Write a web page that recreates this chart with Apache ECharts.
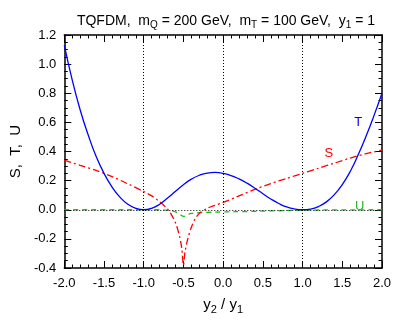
<!DOCTYPE html>
<html>
<head>
<meta charset="utf-8">
<script src="https://cdn.jsdelivr.net/npm/echarts@6/dist/echarts.min.js"></script>
<style>
  html, body { margin: 0; padding: 0; background: #fff; }
  #main { width: 407px; height: 326px; }
</style>
</head>
<body>
<div id="main"></div>
<script>
// y2/y1 sample points for T
const tX = [-2.0, -1.9, -1.8, -1.7, -1.6, -1.5, -1.4, -1.3, -1.2, -1.1, -1.0, -0.9, -0.8, -0.7, -0.6, -0.5, -0.4, -0.3, -0.2, -0.1,
  0.0, 0.1, 0.2, 0.3, 0.4, 0.5, 0.6, 0.7, 0.8, 0.9, 1.0, 1.1, 1.2, 1.3, 1.4, 1.5, 1.6, 1.7, 1.8, 1.9, 2.0];
const tVal = [1.13, 0.89, 0.685, 0.515, 0.367, 0.25, 0.157, 0.087, 0.038, 0.0096, 0.0, 0.01, 0.038, 0.08, 0.127, 0.172, 0.21, 0.237, 0.252, 0.256,
  0.25, 0.235, 0.212, 0.183, 0.148, 0.11, 0.074, 0.043, 0.019, 0.005, 0.0, 0.005, 0.022, 0.054, 0.104, 0.173, 0.263, 0.377, 0.506, 0.648, 0.80];

// S, denser near the dip at -0.5
const sX = [-2.0, -1.8, -1.6, -1.4, -1.2, -1.0, -0.9, -0.8, -0.7, -0.65, -0.6, -0.55, -0.52, -0.5, -0.48, -0.45, -0.4, -0.35, -0.3, -0.2, -0.1,
  0.0, 0.2, 0.4, 0.6, 0.8, 1.0, 1.2, 1.4, 1.6, 1.8, 2.0];
const sVal = [0.34, 0.305, 0.27, 0.228, 0.178, 0.125, 0.095, 0.055, 0.005, -0.035, -0.09, -0.18, -0.27, -0.38, -0.29, -0.21, -0.12, -0.06, -0.025, 0.01, 0.03,
  0.05, 0.095, 0.14, 0.18, 0.215, 0.25, 0.285, 0.32, 0.355, 0.385, 0.41];

// U, almost zero everywhere
const uX = [-2.0, -1.5, -1.0, -0.8, -0.7, -0.6, -0.55, -0.5, -0.45, -0.4, -0.3, -0.2, 0.0, 0.3, 0.6, 1.0, 1.5, 2.0];
const uVal = [0, 0, 0, 0, -0.003, -0.015, -0.03, -0.045, -0.035, -0.025, -0.02, -0.018, -0.015, -0.012, -0.008, -0.003, -0.001, 0];

const xTicks = [-2.0, -1.5, -1.0, -0.5, 0.0, 0.5, 1.0, 1.5, 2.0];
const yTicks = [-0.4, -0.2, 0.0, 0.2, 0.4, 0.6, 0.8, 1.0, 1.2];
const refX = [-1, 0, 1];

const zip = (xs, ys) => xs.map((x, i) => [x, ys[i]]);
const FONT = 'Liberation Sans, Arial, sans-serif';

const chart = echarts.init(document.getElementById('main'));

const boxAxis = (extra) => Object.assign({
  type: 'value',
  axisLine: { show: true, onZero: false, lineStyle: { color: '#000', width: 1.5 } },
  axisTick: { show: true, inside: true, length: 7, lineStyle: { color: '#000', width: 1 } },
  minorTick: { show: true, length: 3.5, lineStyle: { color: '#000', width: 1 } },
  splitLine: { show: false },
  axisLabel: { show: false }
}, extra);

const option = {
  animation: false,
  title: {
    text: 'TQFDM,  m{s|Q} = 200 GeV,  m{s|T} = 100 GeV,  y{s|1} = 1',
    left: 221, top: 8, textAlign: 'center',
    textStyle: {
      fontFamily: FONT, fontSize: 14, fontWeight: 'normal', color: '#000',
      rich: { s: { fontFamily: FONT, fontSize: 10, verticalAlign: 'bottom', padding: [7, 0, 0, 0], color: '#000' } }
    }
  },
  grid: { left: 62, right: 25, top: 35, bottom: 58 },
  xAxis: [
    boxAxis({
      min: -2, max: 2, interval: 0.5, position: 'bottom',
      minorTick: { show: true, splitNumber: 5, length: 3.5, lineStyle: { color: '#000' } },
      axisLabel: { show: true, color: '#000', fontFamily: FONT, fontSize: 13, margin: 9,
        formatter: v => xTicks.includes(+v.toFixed(1)) ? v.toFixed(1) : '' },
      name: 'y{s|2} / y{s|1}', nameLocation: 'middle', nameGap: 27,
      nameTextStyle: { color: '#000', fontFamily: FONT, fontSize: 15,
        rich: { s: { fontFamily: FONT, fontSize: 11, padding: [9, 0, 0, 0], color: '#000' } } }
    }),
    boxAxis({ min: -2, max: 2, interval: 0.5, position: 'top',
      minorTick: { show: true, splitNumber: 5, length: 3.5, lineStyle: { color: '#000' } } })
  ],
  yAxis: [
    boxAxis({
      min: -0.4, max: 1.2, interval: 0.2, position: 'left',
      minorTick: { show: true, splitNumber: 4, length: 3.5, lineStyle: { color: '#000' } },
      axisLabel: { show: true, color: '#000', fontFamily: FONT, fontSize: 13, margin: 8,
        formatter: v => yTicks.includes(+v.toFixed(1)) ? v.toFixed(1) : '' },
      name: 'S,  T,  U', nameLocation: 'middle', nameGap: 38, nameRotate: 90,
      nameTextStyle: { color: '#000', fontFamily: FONT, fontSize: 15 }
    }),
    boxAxis({ min: -0.4, max: 1.2, interval: 0.2, position: 'right',
      minorTick: { show: true, splitNumber: 4, length: 3.5, lineStyle: { color: '#000' } } })
  ],
  series: [
    {
      name: 'ref', type: 'line', data: [], silent: true,
      markLine: {
        symbol: 'none', silent: true, label: { show: false },
        lineStyle: { color: '#000', width: 1, type: [1, 2] },
        data: refX.map(x => ({ xAxis: x })).concat([{ yAxis: 0 }])
      }
    },
    {
      name: 'U', type: 'line', data: zip(uX, uVal), smooth: true, showSymbol: false,
      lineStyle: { color: '#22bb22', width: 1.3, type: [5, 4] },
      markPoint: {
        symbol: 'circle', symbolSize: 0,
        label: { show: true, formatter: 'U', color: '#22bb22', fontFamily: FONT, fontSize: 13 },
        data: [{ coord: [1.72, 0.02] }]
      }
    },
    {
      name: 'S', type: 'line', data: zip(sX, sVal), smooth: 0.3, showSymbol: false,
      lineStyle: { color: '#ff0000', width: 1.3, type: [7, 3, 2, 3] },
      markPoint: {
        symbol: 'circle', symbolSize: 0,
        label: { show: true, formatter: 'S', color: '#ff0000', fontFamily: FONT, fontSize: 13 },
        data: [{ coord: [1.33, 0.39] }]
      }
    },
    {
      name: 'T', type: 'line', data: zip(tX, tVal), smooth: true, showSymbol: false,
      lineStyle: { color: '#0000ff', width: 1.3, type: 'solid' },
      markPoint: {
        symbol: 'circle', symbolSize: 0,
        label: { show: true, formatter: 'T', color: '#0000ff', fontFamily: FONT, fontSize: 13 },
        data: [{ coord: [1.7, 0.6] }]
      }
    }
  ]
};

chart.setOption(option);
</script>
</body>
</html>
